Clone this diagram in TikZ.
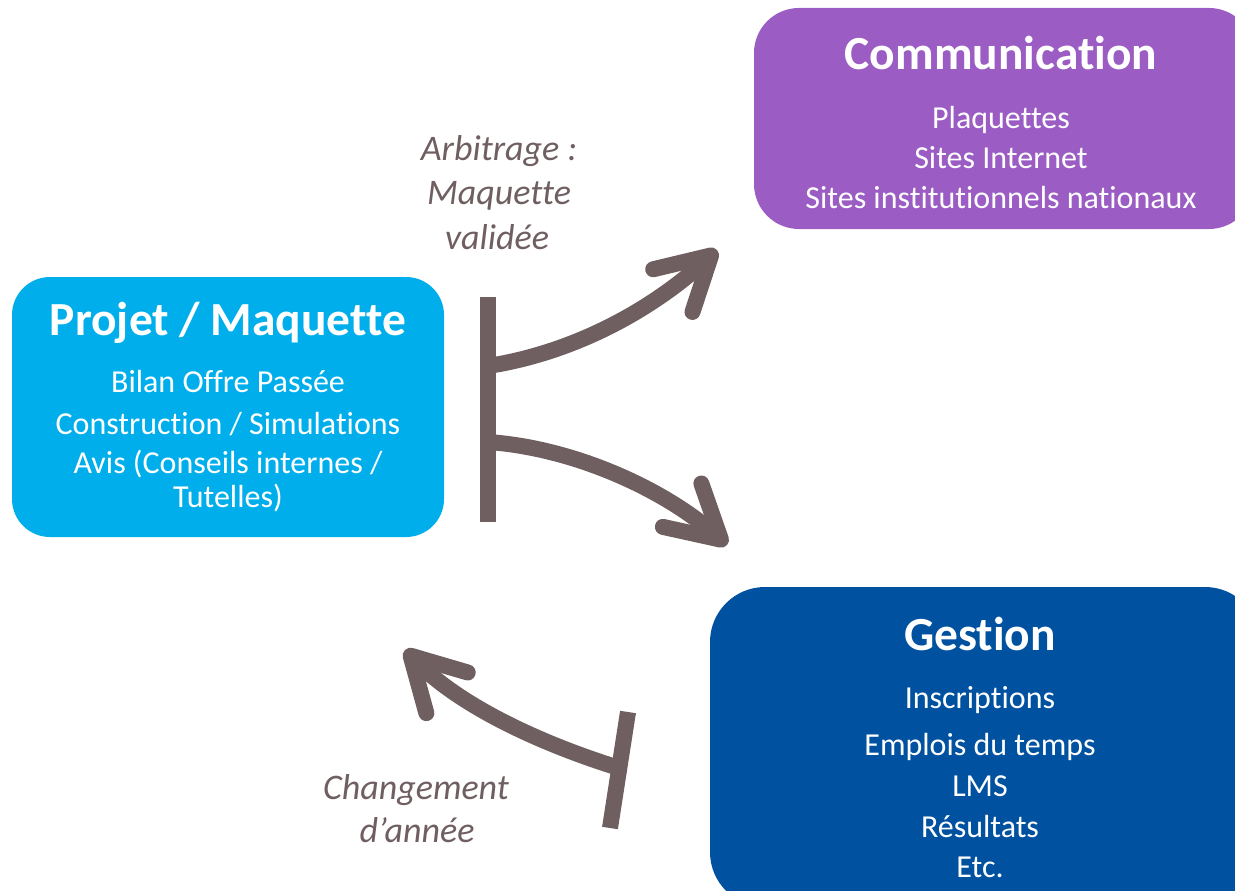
\documentclass[tikz,border=0pt]{standalone}
\usepackage{fontspec}
\setmainfont[Ligatures={NoCommon,NoContextual,NoRare},RawFeature={-liga;-clig;-calt;-dlig}]{Carlito}
\usetikzlibrary{arrows.meta}
\definecolor{cyanbox}{HTML}{00AEEB}
\definecolor{purplebox}{HTML}{9B5CC4}
\definecolor{bluebox}{HTML}{0051A0}
\definecolor{taupe}{HTML}{705F60}
\tikzset{
  box/.style={draw=none, rounded corners=#1, inner sep=0pt},
  title/.style={text=white, font=\fontsize{47.5}{57}\selectfont\bfseries, inner sep=0pt},
  body/.style={text=white, font=\fontsize{32}{38}\selectfont, inner sep=0pt},
  lbl/.style={text=taupe, font=\fontsize{36}{44}\selectfont\itshape, inner sep=0pt},
  bar/.style={draw=taupe, line width=16pt, line cap=butt},
  flow/.style={draw=taupe, line width=16pt, -{Straight Barb[length=52pt,width=58pt,round]}},
}
\begin{document}
\begin{tikzpicture}[x=1pt,y=-1pt]
\useasboundingbox (0,0) rectangle (1235,891);
\clip (0,0) rectangle (1235,891);
% boxes
\node[box=38pt, fill=cyanbox, minimum width=432pt, minimum height=260pt] (proj) at (228,407) {};
\node[box=45pt, fill=purplebox, minimum width=500pt, minimum height=221pt] (comm) at (1004,118.5) {};
\node[box=55pt, fill=bluebox, minimum width=550pt, minimum height=320pt] (gest) at (985,747) {};
% Projet texts
\node[title] (projT) at (228,323) {Projet / Maquette};
\node[body] (p1) at (228,382) {Bilan Offre Passée};
\node[body] (p2) at (228,424) {Construction / Simulations};
\node[body] (p3) at (228,464) {Avis (Conseils internes /};
\node[body] (p4) at (228,498) {Tutelles)};
% Communication texts
\node[title] (commT) at (1001,53) {Communication};
\node[body] (c1) at (1001,120) {Plaquettes};
\node[body] (c2) at (1001,158) {Sites Internet};
\node[body] (c3) at (1001,198) {Sites institutionnels nationaux};
% Gestion texts
\node[title] (gestT) at (980,634) {Gestion};
\node[body] (g1) at (980,700) {Inscriptions};
\node[body] (g2) at (980,747) {Emplois du temps};
\node[body] (g3) at (980,786) {LMS};
\node[body] (g4) at (980,827) {Résultats};
\node[body] (g5) at (980,867) {Etc.};
% labels
\node[lbl] (a1) at (499,151) {Arbitrage :};
\node[lbl] (a2) at (499,196) {Maquette};
\node[lbl] (a3) at (497,237) {validée};
\node[lbl] (b1) at (416,790) {Changement};
\node[lbl] (b2) at (417,830) {d’année};
% connectors
\coordinate (barTop) at (488,297);
\coordinate (barBot) at (488,522);
\coordinate (s1) at (488,366);
\coordinate (t1) at (717,250);
\coordinate (s2) at (488,442);
\coordinate (t2) at (727,545);
\coordinate (bar2Top) at (628,712);
\coordinate (bar2Bot) at (610,828);
\coordinate (s3) at (619,768);
\coordinate (t3) at (405,650);
\draw[bar] (barTop) -- (barBot);
\draw[bar] (bar2Top) -- (bar2Bot);
\draw[flow] (s1) .. controls (578,352) and (655,307) .. (t1);
\draw[flow] (s2) .. controls (575,448) and (665,490) .. (t2);
\draw[flow] (s3) .. controls (545,745) and (462,708) .. (t3);
\end{tikzpicture}
\end{document}
